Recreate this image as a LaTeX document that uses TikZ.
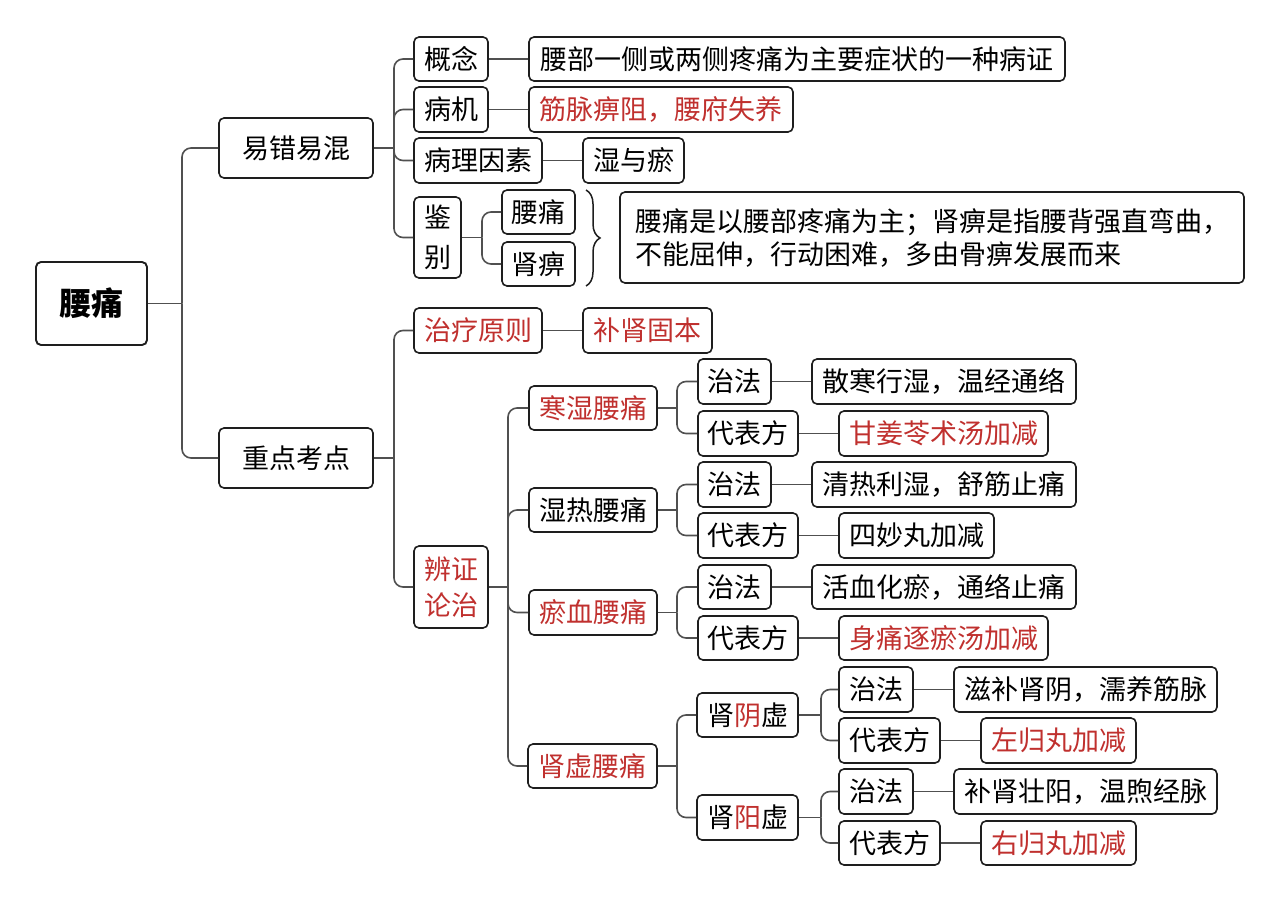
\documentclass[tikz,border=0pt]{standalone}
\usepackage{fontspec}
\setmainfont{Noto Sans CJK SC}
\usetikzlibrary{decorations.pathreplacing}
\definecolor{redt}{HTML}{C0302E}
\definecolor{bordc}{HTML}{1E1E1E}
\definecolor{linec}{HTML}{505050}
\tikzset{
  box/.style={draw=bordc, line width=1.6pt, rounded corners=5pt, inner sep=0pt, fill=white,
    font=\fontsize{27}{36}\selectfont, text=black},
  redbox/.style={box, text=redt},
  conn/.style={draw=linec, line width=1.6pt, rounded corners=9pt},
}
\newcommand\bx[7][]{\node[box,#1,minimum width={(#5-#3)*1pt},minimum height={(#6-#4)*1pt}] (#2) at ({(#3+#5)/2},{(#4+#6)/2}) {#7};}
\newcommand\fork[3]{% parent, trunk x, list of children
  \draw[conn] (#1.east) -- (#1.east -| #2,0);
  \foreach \c in {#3}{\draw[conn] (#1.east -| #2,0) |- (\c.west);}
}
\begin{document}
\begin{tikzpicture}[x=1pt,y=-1pt]
\useasboundingbox[fill=white] (0,0) rectangle (1280,901);
% root and level 1
\bx[font=\fontsize{32}{36}\selectfont\bfseries, line width=1.9pt]{root}{36}{262}{147}{345}{腰痛}
\bx{yc}{219}{118}{373}{178}{易错易混}
\bx{zd}{219}{428}{373}{488}{重点考点}
% 易错易混 branch
\bx{gn}{414}{37}{488}{81}{概念}
\bx{gnd}{529}{37}{1065}{81}{腰部一侧或两侧疼痛为主要症状的一种病证}
\bx{bj}{414}{87}{488}{132}{病机}
\bx[redbox]{bjd}{529}{87}{793}{132}{筋脉痹阻，腰府失养}
\bx{bl}{414}{138}{542}{183}{病理因素}
\bx{bld}{583}{138}{684}{183}{湿与瘀}
\bx[align=center,font=\fontsize{27}{40}\selectfont]{jb}{414}{197}{461}{278}{鉴\\别}
\bx{jba}{502}{190}{575}{234}{腰痛}
\bx{jbb}{502}{242}{575}{286}{肾痹}
\bx[align=left,font=\fontsize{27}{33}\selectfont]{jbd}{620}{192}{1244}{283}{腰痛是以腰部疼痛为主；肾痹是指腰背强直弯曲，\\不能屈伸，行动困难，多由骨痹发展而来}
% 重点考点 branch
\bx[redbox]{zl}{414}{308}{542}{353}{治疗原则}
\bx[redbox]{zld}{583}{308}{712}{353}{补肾固本}
\bx[redbox,align=center,font=\fontsize{27}{36}\selectfont]{bz}{414}{546}{488}{628}{辨证\\论治}
\bx[redbox]{hs}{529}{386}{657}{430}{寒湿腰痛}
\bx{hsa}{698}{359}{771}{404}{治法}
\bx{hsad}{812}{359}{1076}{404}{散寒行湿，温经通络}
\bx{hsb}{698}{411}{798}{456}{代表方}
\bx[redbox]{hsbd}{839}{411}{1048}{456}{甘姜苓术汤加减}
\bx{sr}{529}{488}{657}{532}{湿热腰痛}
\bx{sra}{698}{462}{771}{507}{治法}
\bx{srad}{812}{462}{1076}{507}{清热利湿，舒筋止痛}
\bx{srb}{698}{513}{798}{558}{代表方}
\bx{srbd}{839}{513}{994}{558}{四妙丸加减}
\bx[redbox]{yx}{529}{590}{657}{635}{瘀血腰痛}
\bx{yxa}{698}{565}{771}{609}{治法}
\bx{yxad}{812}{565}{1076}{609}{活血化瘀，通络止痛}
\bx{yxb}{698}{616}{798}{660}{代表方}
\bx[redbox]{yxbd}{839}{616}{1048}{660}{身痛逐瘀汤加减}
\bx[redbox]{sx}{528}{744}{657}{788}{肾虚腰痛}
\bx{sy}{697}{693}{798}{737}{肾{\color{redt}阴}虚}
\bx{sya}{839}{667}{913}{712}{治法}
\bx{syad}{954}{667}{1217}{712}{滋补肾阴，濡养筋脉}
\bx{syb}{839}{718}{940}{763}{代表方}
\bx[redbox]{sybd}{981}{718}{1136}{763}{左归丸加减}
\bx{sa}{697}{795}{798}{840}{肾{\color{redt}阳}虚}
\bx{saa}{839}{769}{913}{814}{治法}
\bx{saad}{954}{769}{1217}{814}{补肾壮阳，温煦经脉}
\bx{sab}{839}{821}{940}{865}{代表方}
\bx[redbox]{sabd}{981}{821}{1136}{865}{右归丸加减}
% forks
\fork{root}{182}{yc,zd}
\fork{yc}{394}{gn,bj,bl,jb}
\fork{jb}{482}{jba,jbb}
\fork{zd}{394}{zl,bz}
\fork{bz}{508}{hs,sr,yx,sx}
\fork{hs}{677}{hsa,hsb}
\fork{sr}{677}{sra,srb}
\fork{yx}{677}{yxa,yxb}
\fork{sx}{677}{sy,sa}
\fork{sy}{821}{sya,syb}
\fork{sa}{821}{saa,sab}
% straight links
\foreach \a/\b in {gn/gnd,bj/bjd,bl/bld,zl/zld,hsa/hsad,hsb/hsbd,sra/srad,srb/srbd,yxa/yxad,yxb/yxbd,sya/syad,syb/sybd,saa/saad,sab/sabd}
  {\draw[conn] (\a.east) -- (\b.west);}
% brace
\coordinate (brt) at (586,190);
\coordinate (brb) at (586,286);
\draw[draw=bordc, line width=1.5pt, decorate, decoration={brace, amplitude=14pt}] (brt) -- (brb);
\end{tikzpicture}
\end{document}
